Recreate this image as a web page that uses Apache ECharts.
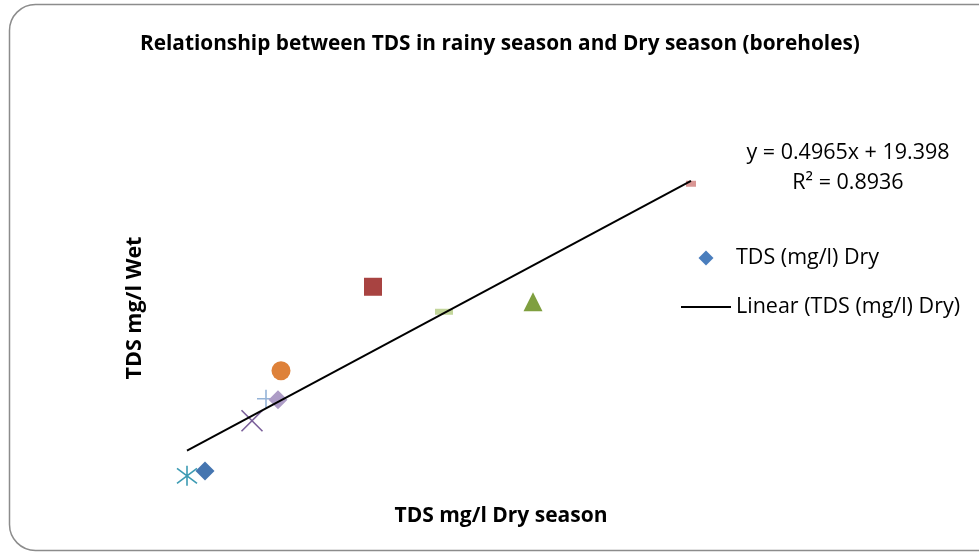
<!DOCTYPE html>
<html>
<head>
<meta charset="utf-8">
<script src="https://cdn.jsdelivr.net/npm/echarts@6/dist/echarts.min.js"></script>
<style>
  html, body { margin: 0; padding: 0; background: #fff; }
  #chart { width: 979px; height: 552px; }
</style>
</head>
<body>
<div id="chart"></div>
<script>
(function(){
    // 数据：旱季 / 雨季 TDS (mg/l)
    var dryTDS = [100, 118, 165, 179, 191, 194, 286, 357, 446, 604];
    var wetTDS = [45.6, 50.2, 96.7, 117.1, 116.2, 143.1, 221.1, 197.9, 207.1, 316.7];

    // 每个点的标记 (Excel 的 vary colors by point)
    var markers = ['asterisk', 'diamond', 'x', 'plus', 'diamond', 'circle', 'rect', 'dash', 'triangle', 'dash'];
    var colors = ['#3d9bb3', '#4575b0', '#7a5f9a', '#95b3d7', '#ad9cc6', '#de8139', '#a84341', '#c3d69b', '#7f9f3f', '#d99694'];

    // 趋势线
    var trendSlope = 0.4965;
    var trendIntercept = 19.398;
    var trendLabel = ['y = 0.4965x + 19.398', 'R\u00b2 = 0.8936'];

    var font = 'Open Sans';

    var symbolMap = {
        asterisk: {symbol: 'path://M5,0L5,10M1.2,1.2L8.8,8.8M8.8,1.2L1.2,8.8', size: 20, line: true},
        x: {symbol: 'path://M0,0L10,10M10,0L0,10', size: 21, line: true},
        plus: {symbol: 'path://M5,0L5,10M0,5L10,5', size: 18, line: true},
        diamond: {symbol: 'diamond', size: 19},
        circle: {symbol: 'circle', size: 19},
        rect: {symbol: 'rect', size: 18},
        triangle: {symbol: 'triangle', size: 19},
        dash: {symbol: 'rect', size: [18, 6]}
    };

    var points = dryTDS.map(function(x, i){
        var m = symbolMap[markers[i]];
        var size = m.size;
        if (i === 9) size = [10, 6];
        return {
            value: [x, wetTDS[i]],
            symbol: m.symbol,
            symbolSize: size,
            itemStyle: m.line ? {
                color: 'rgba(0,0,0,0)',
                borderColor: colors[i],
                borderWidth: 1.6,
                opacity: 1
            } : {
                color: colors[i],
                opacity: 1
            }
        };
    });

    var xMin = Math.min.apply(null, dryTDS);
    var xMax = Math.max.apply(null, dryTDS);
    var trendData = [
        [xMin, trendSlope * xMin + trendIntercept],
        [xMax, trendSlope * xMax + trendIntercept]
    ];

    var myChart = echarts.init(document.getElementById('chart'));

    var option = {
        backgroundColor: '#fff',
        animation: false,
        title: {
            text: 'Relationship between TDS in rainy season and Dry season (boreholes)',
            left: 135,
            top: 29,
            textStyle: {
                fontFamily: font,
                fontSize: 20.8,
                fontWeight: 'bold',
                color: '#000'
            }
        },
        legend: {
            orient: 'vertical',
            left: 676,
            top: 242,
            itemWidth: 50,
            itemHeight: 16,
            itemGap: 27,
            textStyle: {
                fontFamily: font,
                fontSize: 21.5,
                color: '#000'
            },
            data: [
                // 图标路径里多放两个 M 点，让菱形居中在 50 宽的位置
                {name: 'TDS (mg/l) Dry', icon: 'path://M0,0M50,16M25,0.5L32.5,8L25,15.5L17.5,8Z', itemStyle: {color: '#4a7ebd'}},
                {name: 'Linear (TDS (mg/l) Dry)', icon: 'path://M0,0M50,16M0,7L50,7L50,9L0,9Z', itemStyle: {color: '#000'}}
            ]
        },
        grid: {
            left: 87,
            right: 252,
            top: 94,
            bottom: 27
        },
        xAxis: {
            type: 'value',
            min: 0,
            max: 640,
            show: false
        },
        yAxis: {
            type: 'value',
            min: 0,
            max: 400,
            show: false
        },
        graphic: [
            {
                type: 'rect',
                shape: {x: 9.5, y: 4.5, width: 1000, height: 546, r: 26},
                style: {fill: 'none', stroke: '#8c8c8c', lineWidth: 1.5},
                silent: true
            },
            {
                type: 'text',
                x: 135,
                y: 308,
                rotation: Math.PI / 2,
                style: {
                    text: 'TDS mg/l Wet',
                    font: 'bold 21.5px "' + font + '"',
                    fill: '#000',
                    align: 'center',
                    verticalAlign: 'middle'
                }
            },
            {
                type: 'text',
                x: 501,
                y: 516,
                style: {
                    text: 'TDS mg/l Dry season',
                    font: 'bold 21px "' + font + '"',
                    fill: '#000',
                    align: 'center',
                    verticalAlign: 'middle'
                }
            },
            {
                type: 'text',
                x: 848,
                y: 153,
                style: {
                    text: trendLabel[0],
                    font: '21.5px "' + font + '"',
                    fill: '#000',
                    align: 'center',
                    verticalAlign: 'middle'
                }
            },
            {
                type: 'text',
                x: 848,
                y: 183,
                style: {
                    text: trendLabel[1],
                    font: '21.5px "' + font + '"',
                    fill: '#000',
                    align: 'center',
                    verticalAlign: 'middle'
                }
            }
        ],
        series: [{
            name: 'TDS (mg/l) Dry',
            type: 'scatter',
            itemStyle: {color: '#4f81bd', opacity: 1},
            data: points
        }, {
            name: 'Linear (TDS (mg/l) Dry)',
            type: 'line',
            symbol: 'none',
            lineStyle: {color: '#000', width: 2},
            itemStyle: {color: '#000'},
            data: trendData
        }]
    };

    myChart.setOption(option);
})();
</script>
</body>
</html>
